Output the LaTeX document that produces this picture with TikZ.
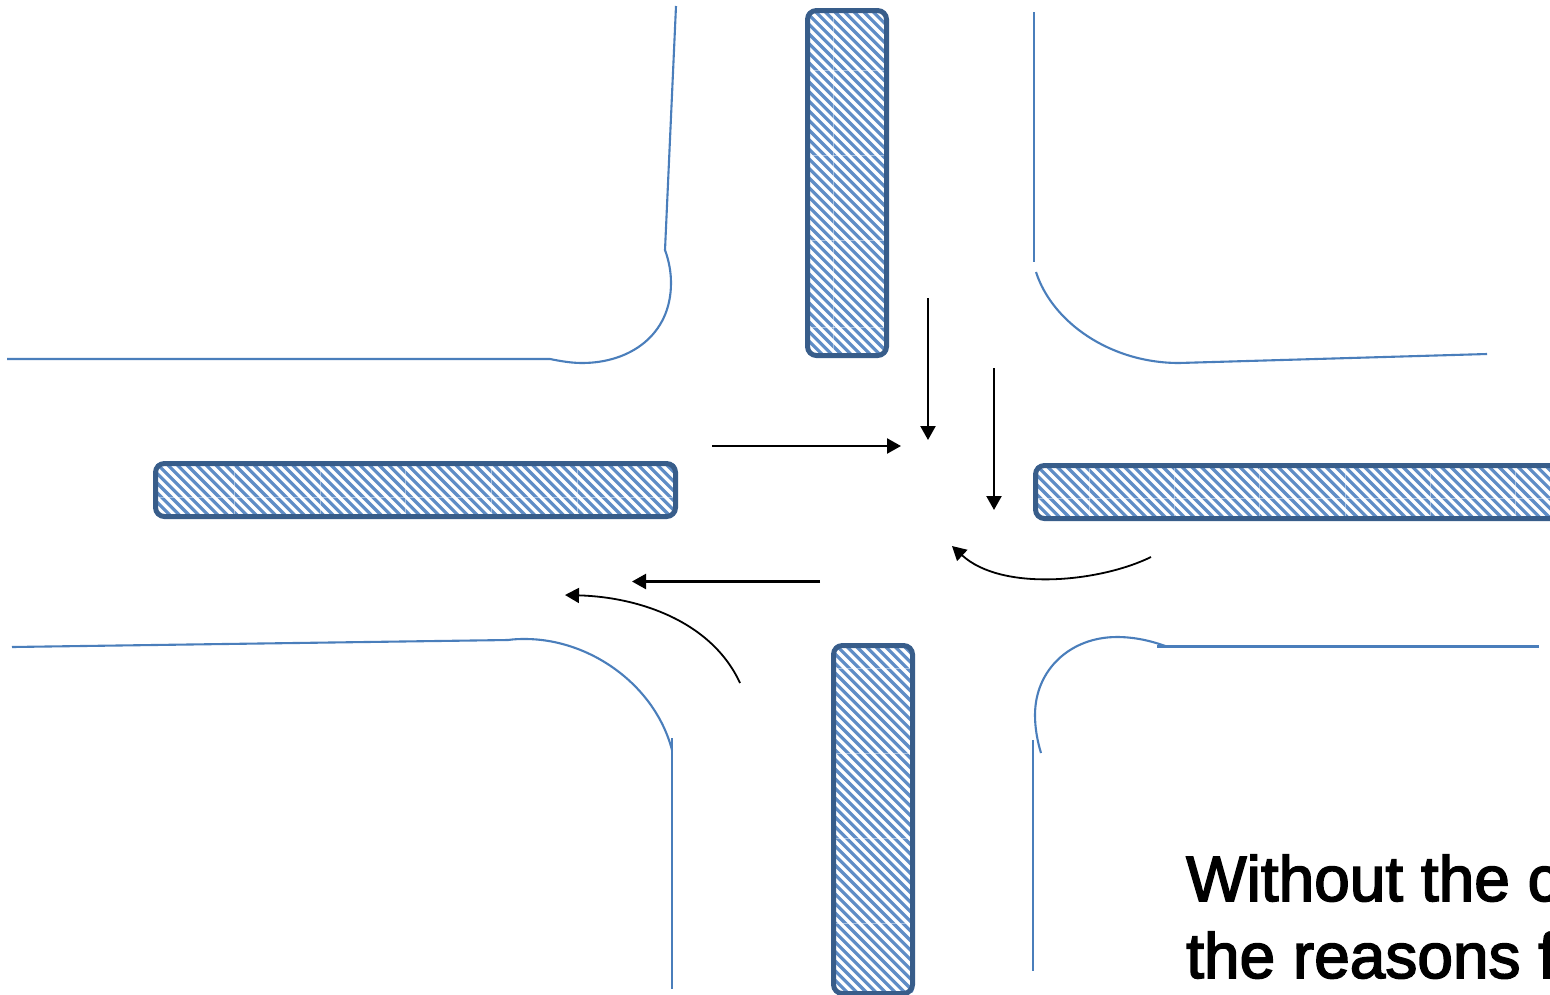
\documentclass[tikz,border=0pt]{standalone}
\usepackage{fontspec}
\setmainfont{Liberation Sans}
\newfontfamily\capfont[FakeBold=2.5]{Liberation Sans}
\usetikzlibrary{arrows.meta}
\definecolor{roadblue}{HTML}{4A7EBB}
\definecolor{barblue}{HTML}{385D8A}
\definecolor{stripeblue}{HTML}{5F8DC6}
\tikzset{
  road/.style={draw=roadblue,line width=2.1pt},
  flow/.style={draw=black,line width=2.3pt,-{Triangle[length=14pt,width=15pt]}},
  flowcurve/.style={draw=black,line width=1.8pt,-{Triangle[length=14pt,width=15pt]}},
  barbox/.style={draw=barblue,line width=5pt,rounded corners=9pt,inner sep=0pt,outer sep=0pt},
  stripe/.style={stripeblue,line width=3.2pt},
  seam/.style={white,line width=0.9pt,opacity=0.45},
  caption/.style={anchor=base west,inner sep=0pt,font=\capfont\fontsize{64}{77}\selectfont}
}
% x0 y0 x1 y1 | vertical seam list | horizontal seam list
\newcommand{\hatchbar}[6]{%
  \begin{scope}
    \clip[rounded corners=8pt] (#1,#2) rectangle (#3,#4);
    \pgfmathsetmacro{\hstart}{#1-(#4-#2)-10}
    \pgfmathsetmacro{\hnext}{\hstart+9.6}
    \foreach \sx in {\hstart,\hnext,...,#3}{
      \draw[stripe] (\sx,#2) -- ++(#4-#2,#4-#2);
    }
    \foreach \sx in {#5}{\draw[seam] (\sx,#2) -- (\sx,#4);}
    \foreach \sy in {#6}{\draw[seam] (#1,\sy) -- (#3,\sy);}
  \end{scope}}
\begin{document}
\begin{tikzpicture}[x=1pt,y=-1pt]
\useasboundingbox (0,0) rectangle (1550,994);
\clip (0,0) rectangle (1550,994);
\fill[white] (0,0) rectangle (1550,994);

% hatched bars
\hatchbar{806}{9}{888}{357}{833}{70,155,240,327}
\node[barbox,minimum width=79pt,minimum height=345pt] (barN) at (847,183) {};
\hatchbar{154}{462}{677}{518}{234,320,405,491,577}{497}
\node[barbox,minimum width=520pt,minimum height=53pt] (barW) at (415.5,490) {};
\hatchbar{1034}{464}{1570}{520}{1089,1174,1259,1345,1430,1515}{498}
\node[barbox,minimum width=532pt,minimum height=53pt] (barE) at (1301.5,492) {};
\hatchbar{832}{644}{914}{996}{}{668,753,838,923}
\node[barbox,minimum width=79pt,minimum height=348pt] (barS) at (873,819.5) {};

% kerb lines
\coordinate (nwA) at (676,6);
\coordinate (nwB) at (665,250);
\coordinate (nwC) at (550,359);
\coordinate (nwD) at (7,359);
\draw[road] (nwA) -- (nwB) .. controls (669,261) and (671,272) .. (671,283)
  .. controls (671,335) and (630,363) .. (582,363)
  .. controls (571,363) and (560,361) .. (nwC) -- (nwD);

\coordinate (neA) at (1034,12);
\coordinate (neB) at (1034,262);
\coordinate (neC) at (1036,272);
\coordinate (neD) at (1179,363);
\coordinate (neE) at (1487,354);
\draw[road] (neA) -- (neB);
\draw[road] (neC) .. controls (1052,322) and (1110,363) .. (neD) -- (neE);

\coordinate (swA) at (12,647);
\coordinate (swB) at (508,640);
\coordinate (swC) at (672,750);
\coordinate (swD) at (672,738);
\coordinate (swE) at (672,989);
\draw[road] (swA) -- (swB) .. controls (515,639) and (520,639) .. (525,639)
  .. controls (590,639) and (655,685) .. (swC);
\draw[road] (swD) -- (swE);

\coordinate (seA) at (1041,753);
\coordinate (seB) at (1168,647);
\coordinate (seC) at (1157,646.5);
\coordinate (seD) at (1539,646.5);
\coordinate (seE) at (1033,740);
\coordinate (seF) at (1033,971);
\draw[road] (seA) .. controls (1037,740) and (1035,727) .. (1035,715)
  .. controls (1035,670) and (1070,637) .. (1117,637)
  .. controls (1135,637) and (1152,641) .. (seB);
\draw[road] (seC) -- (seD);
\draw[road] (seE) -- (seF);

% traffic arrows
\coordinate (a1s) at (928,298); \coordinate (a1e) at (928,440);
\coordinate (a2s) at (994,368); \coordinate (a2e) at (994,510);
\coordinate (a3s) at (712,446); \coordinate (a3e) at (901,446);
\coordinate (a4s) at (820,581.5); \coordinate (a4e) at (632,581.5);
\coordinate (a5s) at (740,683); \coordinate (a5e) at (565,595);
\coordinate (a6s) at (1151,557); \coordinate (a6e) at (952,546);
\draw[flow] (a1s) -- (a1e);
\draw[flow] (a2s) -- (a2e);
\draw[flow] (a3s) -- (a3e);
\draw[flow] (a4s) -- (a4e);
\draw[flowcurve] (a5s) .. controls (712,622) and (640,597) .. (a5e);
\draw[flowcurve] (a6s) .. controls (1100,582) and (1002,592) .. (a6e);

% clipped caption
\node[caption] (capA) at (1186,901) {Without the c};
\node[caption] (capB) at (1186,978) {the reasons f};
\end{tikzpicture}
\end{document}
